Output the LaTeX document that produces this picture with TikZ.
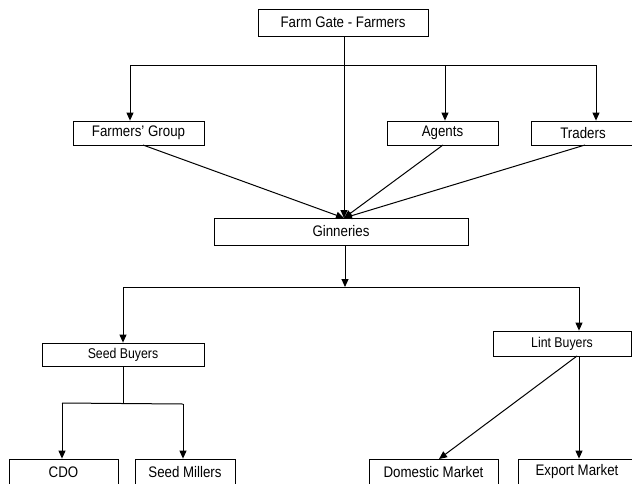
\documentclass[tikz,border=0pt]{standalone}
\usepackage{fontspec}
\usepackage{graphicx}
\setmainfont{Liberation Sans}
\usetikzlibrary{arrows.meta}
\newcommand\tallt[1]{\scalebox{1}[1.15]{#1}}
\tikzset{
  box/.style={draw=black, line width=0.8pt, rectangle, inner sep=0pt, fill=white,
    font=\fontsize{13.3}{15}\selectfont},
  sbox/.style={box, font=\fontsize{12.3}{14}\selectfont},
  con/.style={line width=1pt, draw=black},
  arr/.style={con, -{Triangle[length=8pt,width=7pt]}},
}
\begin{document}
\begin{tikzpicture}[x=1pt,y=-1pt]
\useasboundingbox (0,0) rectangle (632,483);
\clip (0,0) rectangle (632,483);
\fill[white] (0,0) rectangle (632,483);
% nodes
\node[box, minimum width=170pt, minimum height=27pt] (farm) at (343,22.5) {\tallt{Farm Gate - Farmers}};
\node[box, minimum width=131pt, minimum height=24pt] (fg) at (138.5,133) {\tallt{Farmers’ Group}};
\node[box, minimum width=111pt, minimum height=24pt] (agents) at (442.5,133) {\tallt{Agents}};
\node[box, minimum width=104pt, minimum height=24pt] (traders) at (583,133) {\tallt{Traders}};
\node[box, minimum width=254pt, minimum height=27pt] (gin) at (341,231.5) {\tallt{Ginneries}};
\node[sbox, minimum width=162pt, minimum height=23pt] (seed) at (123,354.5) {\tallt{Seed Buyers}};
\node[sbox, minimum width=138pt, minimum height=25pt] (lint) at (562,343.5) {\tallt{Lint Buyers}};
\node[box, minimum width=109pt, minimum height=26pt] (cdo) at (63.5,472) {\tallt{CDO}};
\node[box, minimum width=100pt, minimum height=26pt] (mill) at (185,472) {\tallt{Seed Millers}};
\node[box, minimum width=129pt, minimum height=26pt] (dom) at (433.5,472) {\tallt{Domestic Market}};
\node[box, minimum width=118pt, minimum height=26pt] (exp) at (577,472) {\tallt{Export Market}};
% coordinates
\coordinate (ftop) at (344,36);
\coordinate (gtop) at (344,218);
\coordinate (b1) at (130,65);
\coordinate (b2) at (596,65);
\coordinate (ab) at (445,65);
\coordinate (fgb) at (143,145);
\coordinate (agb) at (443,145);
\coordinate (trb) at (585,145);
\coordinate (gbot) at (345,245);
\coordinate (gbar) at (345,287);
\coordinate (c1) at (123,287);
\coordinate (c2) at (579,287);
\coordinate (sb) at (123,366);
\coordinate (sbar) at (123,403);
\coordinate (d1) at (62,403);
\coordinate (d2) at (183,404);
\coordinate (lb1) at (577,356);
\coordinate (lb2) at (579,356);
\coordinate (domt) at (439,459);
% top connectors
\draw[arr] (ftop) -- (gtop);
\draw[con] (b1) -- (b2);
\draw[arr] (b1) -- (b1 |- fg.north);
\draw[arr] (ab) -- (ab |- agents.north);
\draw[arr] (b2) -- (b2 |- traders.north);
\draw[arr] (fgb) -- (gtop);
\draw[arr] (agb) -- (gtop);
\draw[arr] (trb) -- (gtop);
% middle
\draw[arr] (gbot) -- (gbar);
\draw[con] (c1) -- (c2);
\draw[arr] (c1) -- (c1 |- seed.north);
\draw[arr] (c2) -- (c2 |- lint.north);
% bottom
\draw[con] (sb) -- (sbar);
\draw[con] (d1) -- (d2);
\draw[arr] (d1) -- (d1 |- cdo.north);
\draw[arr] (d2) -- (d2 |- mill.north);
\draw[arr] (lb1) -- (domt);
\draw[arr] (lb2) -- (lb2 |- exp.north);
\end{tikzpicture}
\end{document}
